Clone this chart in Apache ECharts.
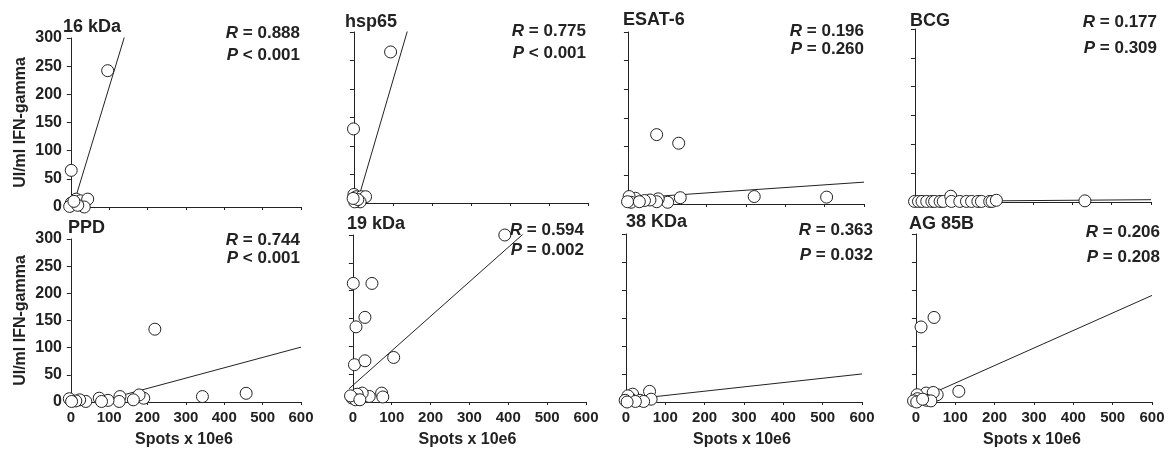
<!DOCTYPE html>
<html>
<head>
<meta charset="utf-8">
<script src="https://cdn.jsdelivr.net/npm/echarts@6/dist/echarts.min.js"></script>
<style>
  html, body { margin: 0; padding: 0; background: #fff; }
  #main { width: 1169px; height: 449px; }
</style>
</head>
<body>
<div id="main"></div>
<script>
// panel labels and statistics
var panelNames = ['16 kDa', 'hsp65', 'ESAT-6', 'BCG', 'PPD', '19 kDa', '38 KDa', 'AG 85B'];
var rValues = ['0.888', '0.775', '0.196', '0.177', '0.744', '0.594', '0.363', '0.206'];
var pValues = ['< 0.001', '< 0.001', '= 0.260', '= 0.309', '< 0.001', '= 0.002', '= 0.032', '= 0.208'];

var xTicks = [0, 100, 200, 300, 400, 500, 600];
var yTicks = [0, 50, 100, 150, 200, 250, 300];

// [spots x 10e6, UI/ml IFN-gamma]
var pts16kDa = [[96, 242], [1, 65], [1, 7], [14, 14], [25, 11], [44, 14], [-3, 1], [35, 0], [18, 3], [8, 10]];
var ptsHsp65 = [[94, 265], [-1, 130], [0, 15], [6, 11], [19, 11], [30, 11], [16, 2], [2, 2], [10, 6], [-2, 8]];
var ptsEsat6 = [[73, 121], [129, 106], [321, 13], [505, 12], [133, 11], [101, 3], [77, 9], [73, 4], [56, 7], [42, 6], [19, 10], [3, 13], [8, 3], [-1, 4], [29, 4]];
var ptsBcg = [[-1, 1], [9, 1], [18, 1], [30, 1], [43, 1], [50, 1], [64, 1], [72, 1], [91, 10], [93, 1], [114, 1], [131, 1], [144, 1], [160, 1], [169, 1], [190, 1], [196, 1], [207, 3], [432, 2]];
var ptsPpd = [[219, 134], [343, 10], [457, 16], [190, 7], [178, 13], [163, 4], [128, 10], [126, 1], [97, 3], [74, 7], [80, 1], [39, 1], [23, 4], [13, 2], [0, 3], [-4, 6], [2, 1]];
var pts19kDa = [[391, 300], [1, 213], [49, 213], [31, 152], [8, 135], [4, 67], [31, 74], [105, 80], [74, 16], [77, 9], [42, 10], [24, 16], [11, 14], [-2, 7], [7, 4], [-6, 11], [18, 4]];
var pts38kDa = [[60, 19], [64, 5], [17, 14], [13, 5], [36, 3], [5, 11], [-2, 3], [45, 1], [24, 1], [3, 0]];
var ptsAg85b = [[13, 134], [46, 151], [109, 19], [54, 13], [26, 16], [44, 17], [3, 13], [4, 6], [-6, 2], [2, 0], [27, 3], [38, 2], [17, 5]];

// regression lines y = a + b x
var fitIntercept = [-11, -19, 9.9, 1, -13, 30, 3.9, 2.5];
var fitSlope = [2.24, 2.34, 0.047, 0.005, 0.19, 0.62, 0.077, 0.313];

var panelPoints = [pts16kDa, ptsHsp65, ptsEsat6, ptsBcg, ptsPpd, pts19kDa, pts38kDa, ptsAg85b];

var xMin = -10, xMax = 600;
var FONT = 'Liberation Sans, Arial, sans-serif';
var INK = '#222';

// plot rectangles [left, top, right, bottom]
var rects = [
  [67, 38, 301, 207], [350, 32, 588, 203], [624, 32, 864, 204], [911, 29, 1151, 202],
  [67, 239, 301, 407], [349, 235, 586, 406], [622, 234, 862, 406], [912, 234, 1152, 406]
];
// title [left x, y], stats [right x, R y, P y]
var titlePos = [[63, 27], [345, 22], [623, 20], [910, 21], [68, 228], [347, 224], [626, 222], [909, 224]];
var statPos = [[300, 33, 55], [586, 31, 53], [864, 31, 49], [1157, 22, 48], [300, 240, 258], [584, 230, 250], [873, 230, 255], [1160, 232, 257]];

var grids = [], xAxes = [], yAxes = [], series = [], graphics = [];

panelPoints.forEach(function (pts, i) {
  var r = rects[i];
  var firstCol = (i % 4 === 0);
  var bottomRow = (i >= 4);
  grids.push({ left: r[0], top: r[1], width: r[2] - r[0], height: r[3] - r[1] });

  xAxes.push({
    gridIndex: i, type: 'value', min: xMin, max: xMax,
    name: bottomRow ? 'Spots x 10e6' : '',
    nameLocation: 'middle', nameGap: 30,
    nameTextStyle: { fontFamily: FONT, fontWeight: 'bold', fontSize: 16, color: INK },
    axisLine: { lineStyle: { color: INK, width: 1 } },
    axisTick: { show: true, length: 3, customValues: xTicks.slice(1), lineStyle: { color: INK } },
    axisLabel: {
      show: bottomRow, customValues: xTicks, margin: 8,
      fontFamily: FONT, fontWeight: 'bold', fontSize: 15, color: INK
    },
    splitLine: { show: false }
  });

  yAxes.push({
    gridIndex: i, type: 'value', min: 0, max: 300, interval: 50,
    name: firstCol ? 'UI/ml IFN-gamma' : '',
    nameLocation: 'middle', nameGap: 38, nameRotate: 90,
    nameTextStyle: { fontFamily: FONT, fontWeight: 'bold', fontSize: 16, color: INK },
    axisLine: { show: true, lineStyle: { color: INK, width: 1 } },
    axisTick: { show: true, length: 4, lineStyle: { color: INK } },
    axisLabel: {
      show: firstCol, margin: 5,
      fontFamily: FONT, fontWeight: 'bold', fontSize: 16, color: INK
    },
    splitLine: { show: false }
  });

  var a = fitIntercept[i], b = fitSlope[i];
  series.push({
    type: 'line', xAxisIndex: i, yAxisIndex: i, clip: true,
    data: [[xMin, a + b * xMin], [xMax, a + b * xMax]],
    symbol: 'none', silent: true, z: 2,
    lineStyle: { color: INK, width: 1 }
  });
  series.push({
    type: 'scatter', xAxisIndex: i, yAxisIndex: i, clip: false,
    data: pts, symbol: 'circle', symbolSize: 12, z: 3,
    itemStyle: { color: '#fff', borderColor: INK, borderWidth: 1, opacity: 1 }
  });

  graphics.push({
    type: 'text',
    style: {
      text: panelNames[i], x: titlePos[i][0], y: titlePos[i][1],
      align: 'left', verticalAlign: 'middle',
      fontFamily: FONT, fontWeight: 'bold', fontSize: 18, fill: INK
    }
  });
  var rich = { i: { fontStyle: 'italic', fontWeight: 'bold', fontSize: 17, fontFamily: FONT, fill: INK } };
  graphics.push({
    type: 'text',
    style: {
      text: '{i|R} = ' + rValues[i], x: statPos[i][0], y: statPos[i][1],
      align: 'right', verticalAlign: 'middle', rich: rich,
      fontFamily: FONT, fontWeight: 'bold', fontSize: 17, fill: INK
    }
  });
  graphics.push({
    type: 'text',
    style: {
      text: '{i|P} ' + pValues[i], x: statPos[i][0], y: statPos[i][2],
      align: 'right', verticalAlign: 'middle', rich: rich,
      fontFamily: FONT, fontWeight: 'bold', fontSize: 17, fill: INK
    }
  });
});

var option = {
  backgroundColor: '#fff',
  animation: false,
  grid: grids,
  xAxis: xAxes,
  yAxis: yAxes,
  series: series,
  graphic: graphics
};

var myChart = echarts.init(document.getElementById('main'));
myChart.setOption(option);
</script>
</body>
</html>
